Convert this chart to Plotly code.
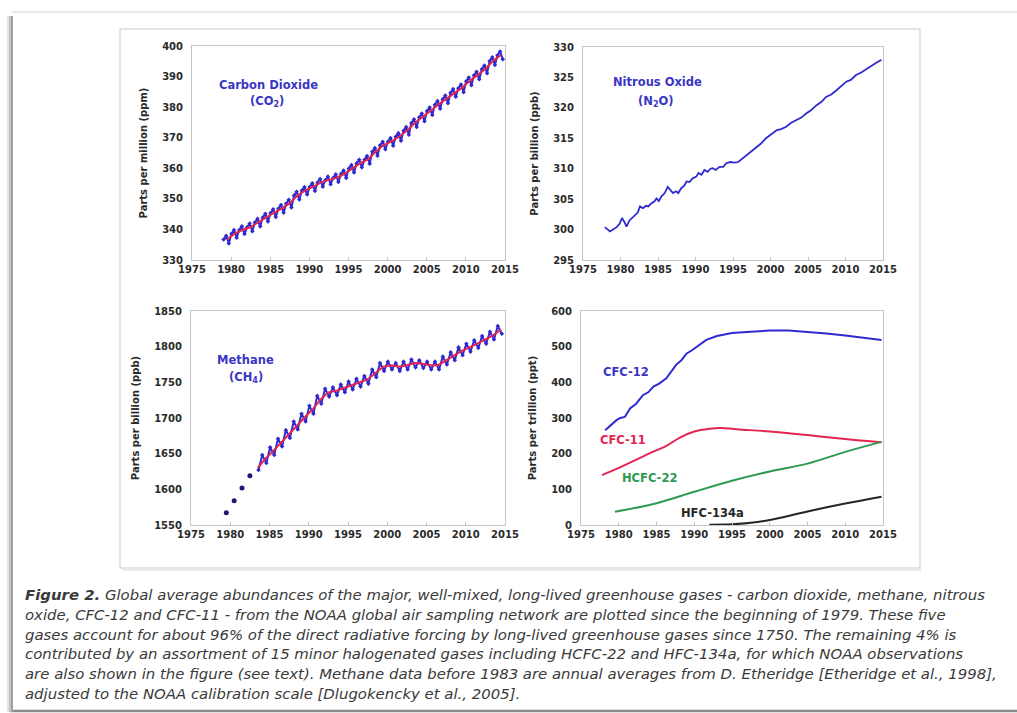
import plotly.graph_objects as go

W, H = 1017, 713

# ---------------- DATA ----------------
co2_years = list(range(1979, 2015))
co2_jan = [336.7, 338.6, 339.8, 340.7, 342.3, 343.9, 345.4, 346.8, 348.5, 351.1, 352.7, 353.9,
           355.3, 356.1, 356.8, 358.1, 359.9, 361.6, 362.8, 365.4, 367.5, 368.7, 370.3, 372.3,
           374.8, 376.7, 378.7, 380.8, 382.6, 384.7, 386.2, 388.5, 390.4, 392.4, 395.1, 397.0]
co2_may = [337.9, 339.8, 341.0, 341.9, 343.5, 345.1, 346.6, 348.0, 349.7, 352.3, 353.9, 355.1,
           356.5, 357.3, 358.0, 359.3, 361.1, 362.8, 364.0, 366.6, 368.7, 369.9, 371.5, 373.5,
           376.0, 377.9, 379.9, 382.0, 383.8, 385.9, 387.4, 389.7, 391.6, 393.6, 396.3, 398.2]
co2_sep = [335.4, 337.3, 338.5, 339.4, 341.0, 342.6, 344.1, 345.5, 347.2, 349.8, 351.4, 352.6,
           354.0, 354.8, 355.5, 356.8, 358.6, 360.3, 361.5, 364.1, 366.2, 367.4, 369.0, 371.0,
           373.5, 375.4, 377.4, 379.5, 381.3, 383.4, 384.9, 387.2, 389.1, 391.1, 393.8, 395.7]
co2_trend = [336.8, 338.7, 339.9, 340.8, 342.4, 344.0, 345.5, 346.9, 348.6, 351.2, 352.8, 354.0,
             355.4, 356.2, 356.9, 358.2, 360.0, 361.7, 362.9, 365.5, 367.6, 368.8, 370.4, 372.4,
             374.9, 376.8, 378.8, 380.9, 382.7, 384.8, 386.3, 388.6, 390.5, 392.5, 395.2, 397.1]

n2o_time = [1977.9, 1978.3, 1978.6, 1979.0, 1979.5, 1979.9, 1980.2, 1980.5, 1980.8, 1981.2,
            1981.6, 1981.9, 1982.3, 1982.6, 1983.0, 1983.4, 1983.7, 1984.1, 1984.5, 1984.8,
            1985.1, 1985.5, 1985.9, 1986.3, 1986.7, 1987.0, 1987.4, 1987.7, 1988.1, 1988.5,
            1988.8, 1989.2, 1989.6, 1990.1, 1990.4, 1990.8, 1991.2, 1991.6, 1992.0, 1992.3,
            1992.7, 1993.2, 1993.7, 1994.1, 1994.6, 1995.2, 1995.7, 1996.2, 1996.8, 1997.4,
            1998.1, 1998.7, 1999.4, 2000.1, 2000.8, 2001.4, 2002.1, 2002.7, 2003.4, 2004.1,
            2004.8, 2005.4, 2006.1, 2006.8, 2007.4, 2008.1, 2008.8, 2009.4, 2010.1, 2010.7,
            2011.4, 2012.1, 2012.8, 2013.5, 2014.1, 2014.8]
n2o_ppb = [300.4, 300.0, 299.7, 300.0, 300.4, 301.0, 301.9, 301.3, 300.5, 301.5,
           302.0, 302.4, 302.8, 303.8, 303.5, 303.9, 303.8, 304.3, 304.6, 305.1,
           304.7, 305.5, 306.0, 307.0, 306.4, 306.0, 306.3, 306.0, 306.8, 307.2,
           307.9, 307.8, 308.4, 308.7, 309.3, 309.0, 309.8, 309.5, 310.0, 310.1,
           309.8, 310.3, 310.3, 310.9, 311.1, 311.0, 311.1, 311.6, 312.2, 312.8,
           313.6, 314.1, 315.0, 315.6, 316.3, 316.5, 316.9, 317.5, 318.0, 318.4,
           319.1, 319.6, 320.4, 321.0, 321.8, 322.2, 322.9, 323.5, 324.3, 324.6,
           325.4, 325.8, 326.4, 327.0, 327.4, 327.9]

ch4_early_years = [1979.5, 1980.5, 1981.5, 1982.5]
ch4_early = [1567, 1584, 1602, 1619]
ch4_years = list(range(1984, 2015))
ch4_winter = [1648, 1659, 1671, 1683, 1695, 1706, 1717, 1731, 1741, 1743, 1747, 1751, 1755,
              1759, 1768, 1777, 1779, 1777, 1779, 1782, 1781, 1779, 1779, 1786, 1792, 1799,
              1804, 1809, 1815, 1821, 1829]
ch4_summer = [1637, 1648, 1660, 1672, 1684, 1695, 1706, 1720, 1730, 1732, 1736, 1740, 1744,
              1748, 1757, 1766, 1768, 1766, 1768, 1771, 1770, 1768, 1768, 1775, 1781, 1788,
              1793, 1798, 1804, 1810, 1818]
ch4_trend_years = list(range(1983, 2015))
ch4_trend = [1630, 1643, 1654, 1666, 1678, 1690, 1701, 1712, 1726, 1736, 1738, 1742, 1746, 1750,
             1754, 1763, 1772, 1774, 1772, 1774, 1777, 1776, 1774, 1774, 1781, 1787, 1794, 1799,
             1804, 1810, 1816, 1824]

cfc12_time = [1978.2, 1978.9, 1979.7, 1980.2, 1980.8, 1981.5, 1982.3, 1983.2, 1983.9, 1984.6,
              1985.4, 1986.3, 1987.0, 1987.6, 1988.3, 1989.0, 1989.7, 1990.3, 1991.0, 1991.6,
              1993.0, 1995.0, 1997.5, 2000.0, 2002.5, 2005.0, 2007.5, 2010.0, 2012.5, 2014.8]
cfc12 = [266, 280, 294, 300, 303, 327, 340, 364, 372, 388,
         397, 411, 430, 449, 462, 481, 490, 500, 510, 519,
         530, 538, 542, 545, 545, 542, 537, 531, 525, 519]
cfc11_time = [1977.8, 1980.0, 1984.0, 1986.3, 1988.1, 1990.0, 1992.0, 1993.5, 1996.0, 2000.0,
              2005.0, 2010.0, 2014.8]
cfc11 = [140, 160, 200, 222, 245, 262, 270, 272, 268, 262, 252, 241, 232]
hcfc22_time = [1979.5, 1985.0, 1990.0, 1995.0, 2000.0, 2005.0, 2010.0, 2014.8]
hcfc22 = [37, 61, 93, 124, 150, 172, 205, 233]
hfc134a_time = [1992.0, 1995.0, 1997.5, 2000.0, 2005.0, 2010.0, 2014.8]
hfc134a = [1, 2, 6, 14, 38, 60, 79]

x_ticks = [1975, 1980, 1985, 1990, 1995, 2000, 2005, 2010, 2015]

caption_lines = [
    "<b>Figure 2.</b> Global average abundances of the major, well-mixed, long-lived greenhouse gases - carbon dioxide, methane, nitrous",
    "oxide, CFC-12 and CFC-11 - from the NOAA global air sampling network are plotted since the beginning of 1979. These five",
    "gases account for about 96% of the direct radiative forcing by long-lived greenhouse gases since 1750. The remaining 4% is",
    "contributed by an assortment of 15 minor halogenated gases including HCFC-22 and HFC-134a, for which NOAA observations",
    "are also shown in the figure (see text). Methane data before 1983 are annual averages from D. Etheridge [Etheridge et al., 1998],",
    "adjusted to the NOAA calibration scale [Dlugokencky et al., 2005].",
]

# ---------------- COLOURS ----------------
BLUE = "#2f2ad0"
RED = "#e3254f"
GREEN = "#2e9a50"
BLACK = "#262626"
LBLUE = "#3a36c4"


def px(x):
    return x / W


def py(y):
    return 1 - y / H


fig = go.Figure()

# CO2
co2_t, co2_v = [], []
for i, yr in enumerate(co2_years):
    co2_t += [yr + 0.04, yr + 0.37, yr + 0.71]
    co2_v += [co2_jan[i], co2_may[i], co2_sep[i]]
fig.add_trace(go.Scatter(x=co2_t, y=co2_v, mode="lines+markers", xaxis="x", yaxis="y",
                         line=dict(color=BLUE, width=2), marker=dict(color=BLUE, size=3.5, symbol="diamond")))
fig.add_trace(go.Scatter(x=[y + 0.5 for y in co2_years], y=co2_trend, mode="lines", xaxis="x", yaxis="y",
                         line=dict(color=RED, width=2)))

# N2O
fig.add_trace(go.Scatter(x=n2o_time, y=n2o_ppb, mode="lines", xaxis="x2", yaxis="y2",
                         line=dict(color=BLUE, width=1.8)))

# CH4
fig.add_trace(go.Scatter(x=ch4_early_years, y=ch4_early, mode="markers", xaxis="x3", yaxis="y3",
                         marker=dict(color="#1c1c6e", size=5)))
ch4_t, ch4_v = [], []
for i, yr in enumerate(ch4_years):
    ch4_t += [yr + 0.08, yr + 0.6]
    ch4_v += [ch4_winter[i], ch4_summer[i]]
fig.add_trace(go.Scatter(x=[1983.6] + ch4_t, y=[1627] + ch4_v, mode="lines+markers", xaxis="x3", yaxis="y3",
                         line=dict(color=BLUE, width=2), marker=dict(color=BLUE, size=3.5, symbol="diamond")))
fig.add_trace(go.Scatter(x=[y + 0.5 for y in ch4_trend_years], y=ch4_trend, mode="lines", xaxis="x3", yaxis="y3",
                         line=dict(color=RED, width=2)))

# Halocarbons
fig.add_trace(go.Scatter(x=cfc12_time, y=cfc12, mode="lines", xaxis="x4", yaxis="y4",
                         line=dict(color=BLUE, width=2)))
fig.add_trace(go.Scatter(x=cfc11_time, y=cfc11, mode="lines", xaxis="x4", yaxis="y4",
                         line=dict(color=RED, width=2, shape="spline")))
fig.add_trace(go.Scatter(x=hcfc22_time, y=hcfc22, mode="lines", xaxis="x4", yaxis="y4",
                         line=dict(color=GREEN, width=2, shape="spline")))
fig.add_trace(go.Scatter(x=hfc134a_time, y=hfc134a, mode="lines", xaxis="x4", yaxis="y4",
                         line=dict(color=BLACK, width=2, shape="spline")))

tickfont = dict(family="DejaVu Sans", size=10, color="#2a2a2a", weight="bold")
titlefont = dict(family="DejaVu Sans", size=10, color="#2a2a2a", weight="bold")


def xax(x0, x1, anchor):
    return dict(domain=[px(x0), px(x1)], range=[1975, 2015], tickvals=x_ticks, anchor=anchor,
                showgrid=False, zeroline=False, showline=True, mirror=True, linecolor="#c4c4c4",
                linewidth=1, ticks="inside", ticklen=3, tickcolor="#c4c4c4", tickfont=tickfont,
                automargin=False)


def yax(y0, y1, rng, dtick, title, anchor):
    return dict(domain=[py(y1), py(y0)], range=rng, dtick=dtick, anchor=anchor,
                showgrid=False, zeroline=False, showline=True, mirror=True, linecolor="#c4c4c4",
                linewidth=1, ticks="outside", ticklen=6, tickcolor="rgba(0,0,0,0)", tickfont=tickfont,
                automargin=False, title=dict(text=title, font=titlefont, standoff=12))


fig.update_layout(
    width=W, height=H, margin=dict(l=0, r=0, t=0, b=0, pad=0, autoexpand=False),
    paper_bgcolor="white", plot_bgcolor="white", showlegend=False,
    xaxis=xax(192, 505, "y"), yaxis=yax(46, 260, [330, 400], 10, "Parts per million (ppm)", "x"),
    xaxis2=xax(583, 883, "y2"), yaxis2=yax(47, 260, [295, 330], 5, "Parts per billion (ppb)", "x2"),
    xaxis3=xax(191, 505, "y3"), yaxis3=yax(311, 525, [1550, 1850], 50, "Parts per billion (ppb)", "x3"),
    xaxis4=xax(581, 883, "y4"), yaxis4=yax(311, 525, [0, 600], 100, "Parts per trillion (ppt)", "x4"),
)

shapes = []
# outer frame with left shadow
shapes.append(dict(type="line", xref="paper", yref="paper", x0=px(12), x1=px(1017), y0=py(12), y1=py(12),
                   line=dict(color="#e2e2e2", width=1.5), layer="below"))
shapes.append(dict(type="line", xref="paper", yref="paper", x0=px(10), x1=px(1017), y0=py(711), y1=py(711),
                   line=dict(color="#8a8a8a", width=2.5), layer="below"))
for i, c in enumerate(["#a0a0a0", "#c4c4c4", "#e4e4e4"]):
    shapes.append(dict(type="line", xref="paper", yref="paper", x0=px(12 - i * 2), x1=px(12 - i * 2),
                       y0=py(712), y1=py(16), line=dict(color=c, width=2), layer="below"))
# inner chart panel
shapes.append(dict(type="rect", xref="paper", yref="paper", x0=px(120), x1=px(920), y0=py(568), y1=py(29),
                   line=dict(color="#dcdcdc", width=1.5), fillcolor="white", layer="below"))
shapes.append(dict(type="line", xref="paper", yref="paper", x0=px(122), x1=px(921), y0=py(570), y1=py(570),
                   line=dict(color="#ececec", width=2), layer="below"))
fig.update_layout(shapes=shapes)

ann = []
lab = dict(family="DejaVu Sans", size=11.5, weight="bold")


def add_label(x, y, text, color):
    ann.append(dict(x=px(x), y=py(y), xref="paper", yref="paper", text=text, showarrow=False,
                    font=dict(lab, color=color), xanchor="center", yanchor="middle"))


add_label(268, 85, "Carbon Dioxide", LBLUE)
add_label(267, 102, "(CO<sub>2</sub>)", LBLUE)
add_label(657, 82, "Nitrous Oxide", LBLUE)
add_label(656, 101, "(N<sub>2</sub>O)", LBLUE)
add_label(245, 360, "Methane", LBLUE)
add_label(246, 377, "(CH<sub>4</sub>)", LBLUE)
add_label(626, 372, "CFC-12", LBLUE)
add_label(623, 440, "CFC-11", RED)
add_label(649, 478, "HCFC-22", GREEN)
add_label(712, 513, "HFC-134a", BLACK)

cap_y = [595, 614.8, 634.5, 654.2, 674, 693.7]
for t, yy in zip(caption_lines, cap_y):
    ann.append(dict(x=px(23), y=py(yy), xref="paper", yref="paper", text="<i>" + t + "</i>",
                    showarrow=False, xanchor="left", yanchor="middle",
                    font=dict(family="DejaVu Sans", size=14.9, color="#3a3a3a")))

fig.update_layout(annotations=ann)
fig.write_html("out.html", config={"displayModeBar": False},
               post_script="document.body.style.margin='0';document.body.style.overflow='hidden';")
